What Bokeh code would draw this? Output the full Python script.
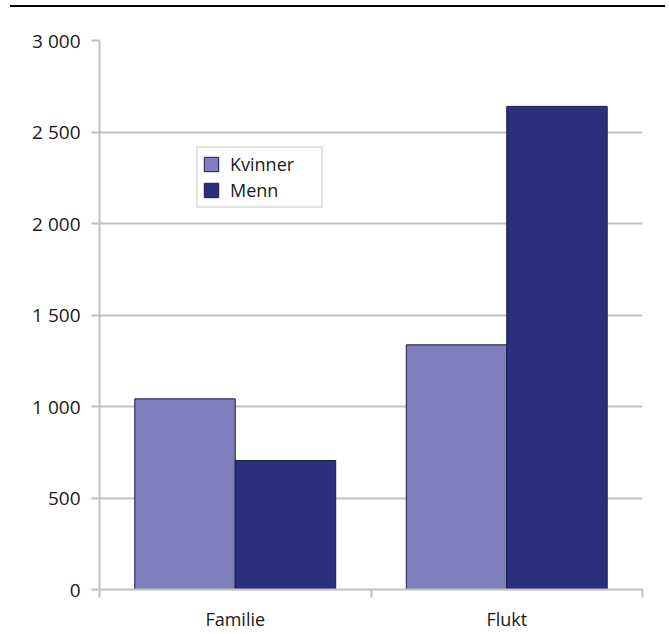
from bokeh.plotting import figure
from bokeh.models import (ColumnDataSource, Range1d, LinearAxis,
                          FixedTicker, Legend, LegendItem, Div)
from bokeh.transform import dodge
from bokeh.layouts import column
from bokeh.embed import file_html
from bokeh.resources import INLINE

categories = ["Familie", "Flukt"]
kvinner = [1042, 1337]
menn = [705, 2640]
series_names = ["Kvinner", "Menn"]
y_ticks = [0, 500, 1000, 1500, 2000, 2500, 3000]

FONT = "Open Sans"
GRID = "#c0c0c0"
TEXT = "#1a1a1a"
FS = "19px"

centers = [i + 0.5 for i in range(len(categories))]
edges = list(range(len(categories) + 1))
src = ColumnDataSource(dict(x=centers, cat=categories, kvinner=kvinner, menn=menn))

p = figure(x_range=Range1d(0, len(categories)), y_range=Range1d(0, 3000),
           width=660, height=627, output_backend="svg", toolbar_location=None,
           x_axis_location=None, y_axis_location="left",
           min_border_left=99, min_border_right=18, min_border_top=33, min_border_bottom=45)
p.outline_line_color = None
p.xgrid.grid_line_color = None
p.ygrid.grid_line_color = GRID
p.ygrid.grid_line_width = 2
p.ygrid.ticker = FixedTicker(ticks=y_ticks)

r1 = p.vbar(x=dodge("x", -0.185), top="kvinner", width=0.37, source=src,
            fill_color="#7f7dbb", line_color="#1c1c3c", line_width=1)
r2 = p.vbar(x=dodge("x", 0.185), top="menn", width=0.37, source=src,
            fill_color="#2b2f7e", line_color="#1c1c3c", line_width=1)

# y axis
ya = p.yaxis[0]
ya.ticker = FixedTicker(ticks=y_ticks)
ya.major_label_overrides = {t: f"{t:,}".replace(",", " ") for t in y_ticks}
ya.axis_line_color = GRID
ya.axis_line_width = 2
ya.major_tick_line_color = GRID
ya.major_tick_line_width = 2
ya.major_tick_out = 8
ya.major_tick_in = 0
ya.minor_tick_line_color = None
ya.major_label_text_font = FONT
ya.major_label_text_font_size = FS
ya.major_label_text_color = TEXT
ya.major_label_standoff = 11

# x axis: labels at category centres, boundary ticks as minor ticks
xa = LinearAxis(ticker=FixedTicker(ticks=centers, minor_ticks=edges))
xa.major_label_overrides = {c: name for c, name in zip(centers, categories)}
xa.axis_line_color = GRID
xa.axis_line_width = 2
xa.major_tick_line_color = None
xa.major_tick_out = 0
xa.major_tick_in = 0
xa.minor_tick_line_color = GRID
xa.minor_tick_line_width = 2
xa.minor_tick_out = 0
xa.minor_tick_in = -8
xa.major_label_text_font = FONT
xa.major_label_text_font_size = "18px"
xa.major_label_text_color = TEXT
xa.major_label_standoff = 17
p.add_layout(xa, "below")

legend = Legend(items=[LegendItem(label=series_names[0], renderers=[r1]),
                       LegendItem(label=series_names[1], renderers=[r2])],
                location=(97, 381))
legend.label_text_font = FONT
legend.label_text_font_size = "18px"
legend.label_text_color = TEXT
legend.glyph_width = 18
legend.glyph_height = 18
legend.label_standoff = 10
legend.label_height = 24
legend.spacing = 2
legend.padding = 4
legend.margin = 0
legend.label_width = 87
legend.border_line_color = "#c8c8c8"
legend.border_line_width = 2
legend.background_fill_color = "white"
legend.background_fill_alpha = 1
p.add_layout(legend, "center")

topline = Div(text="", width=655, height=2, margin=(5, 0, 0, 10),
              styles={"background-color": "#000000"})

layout = column(topline, p, spacing=0)

open("out.html", "w").write(file_html(layout, INLINE))
